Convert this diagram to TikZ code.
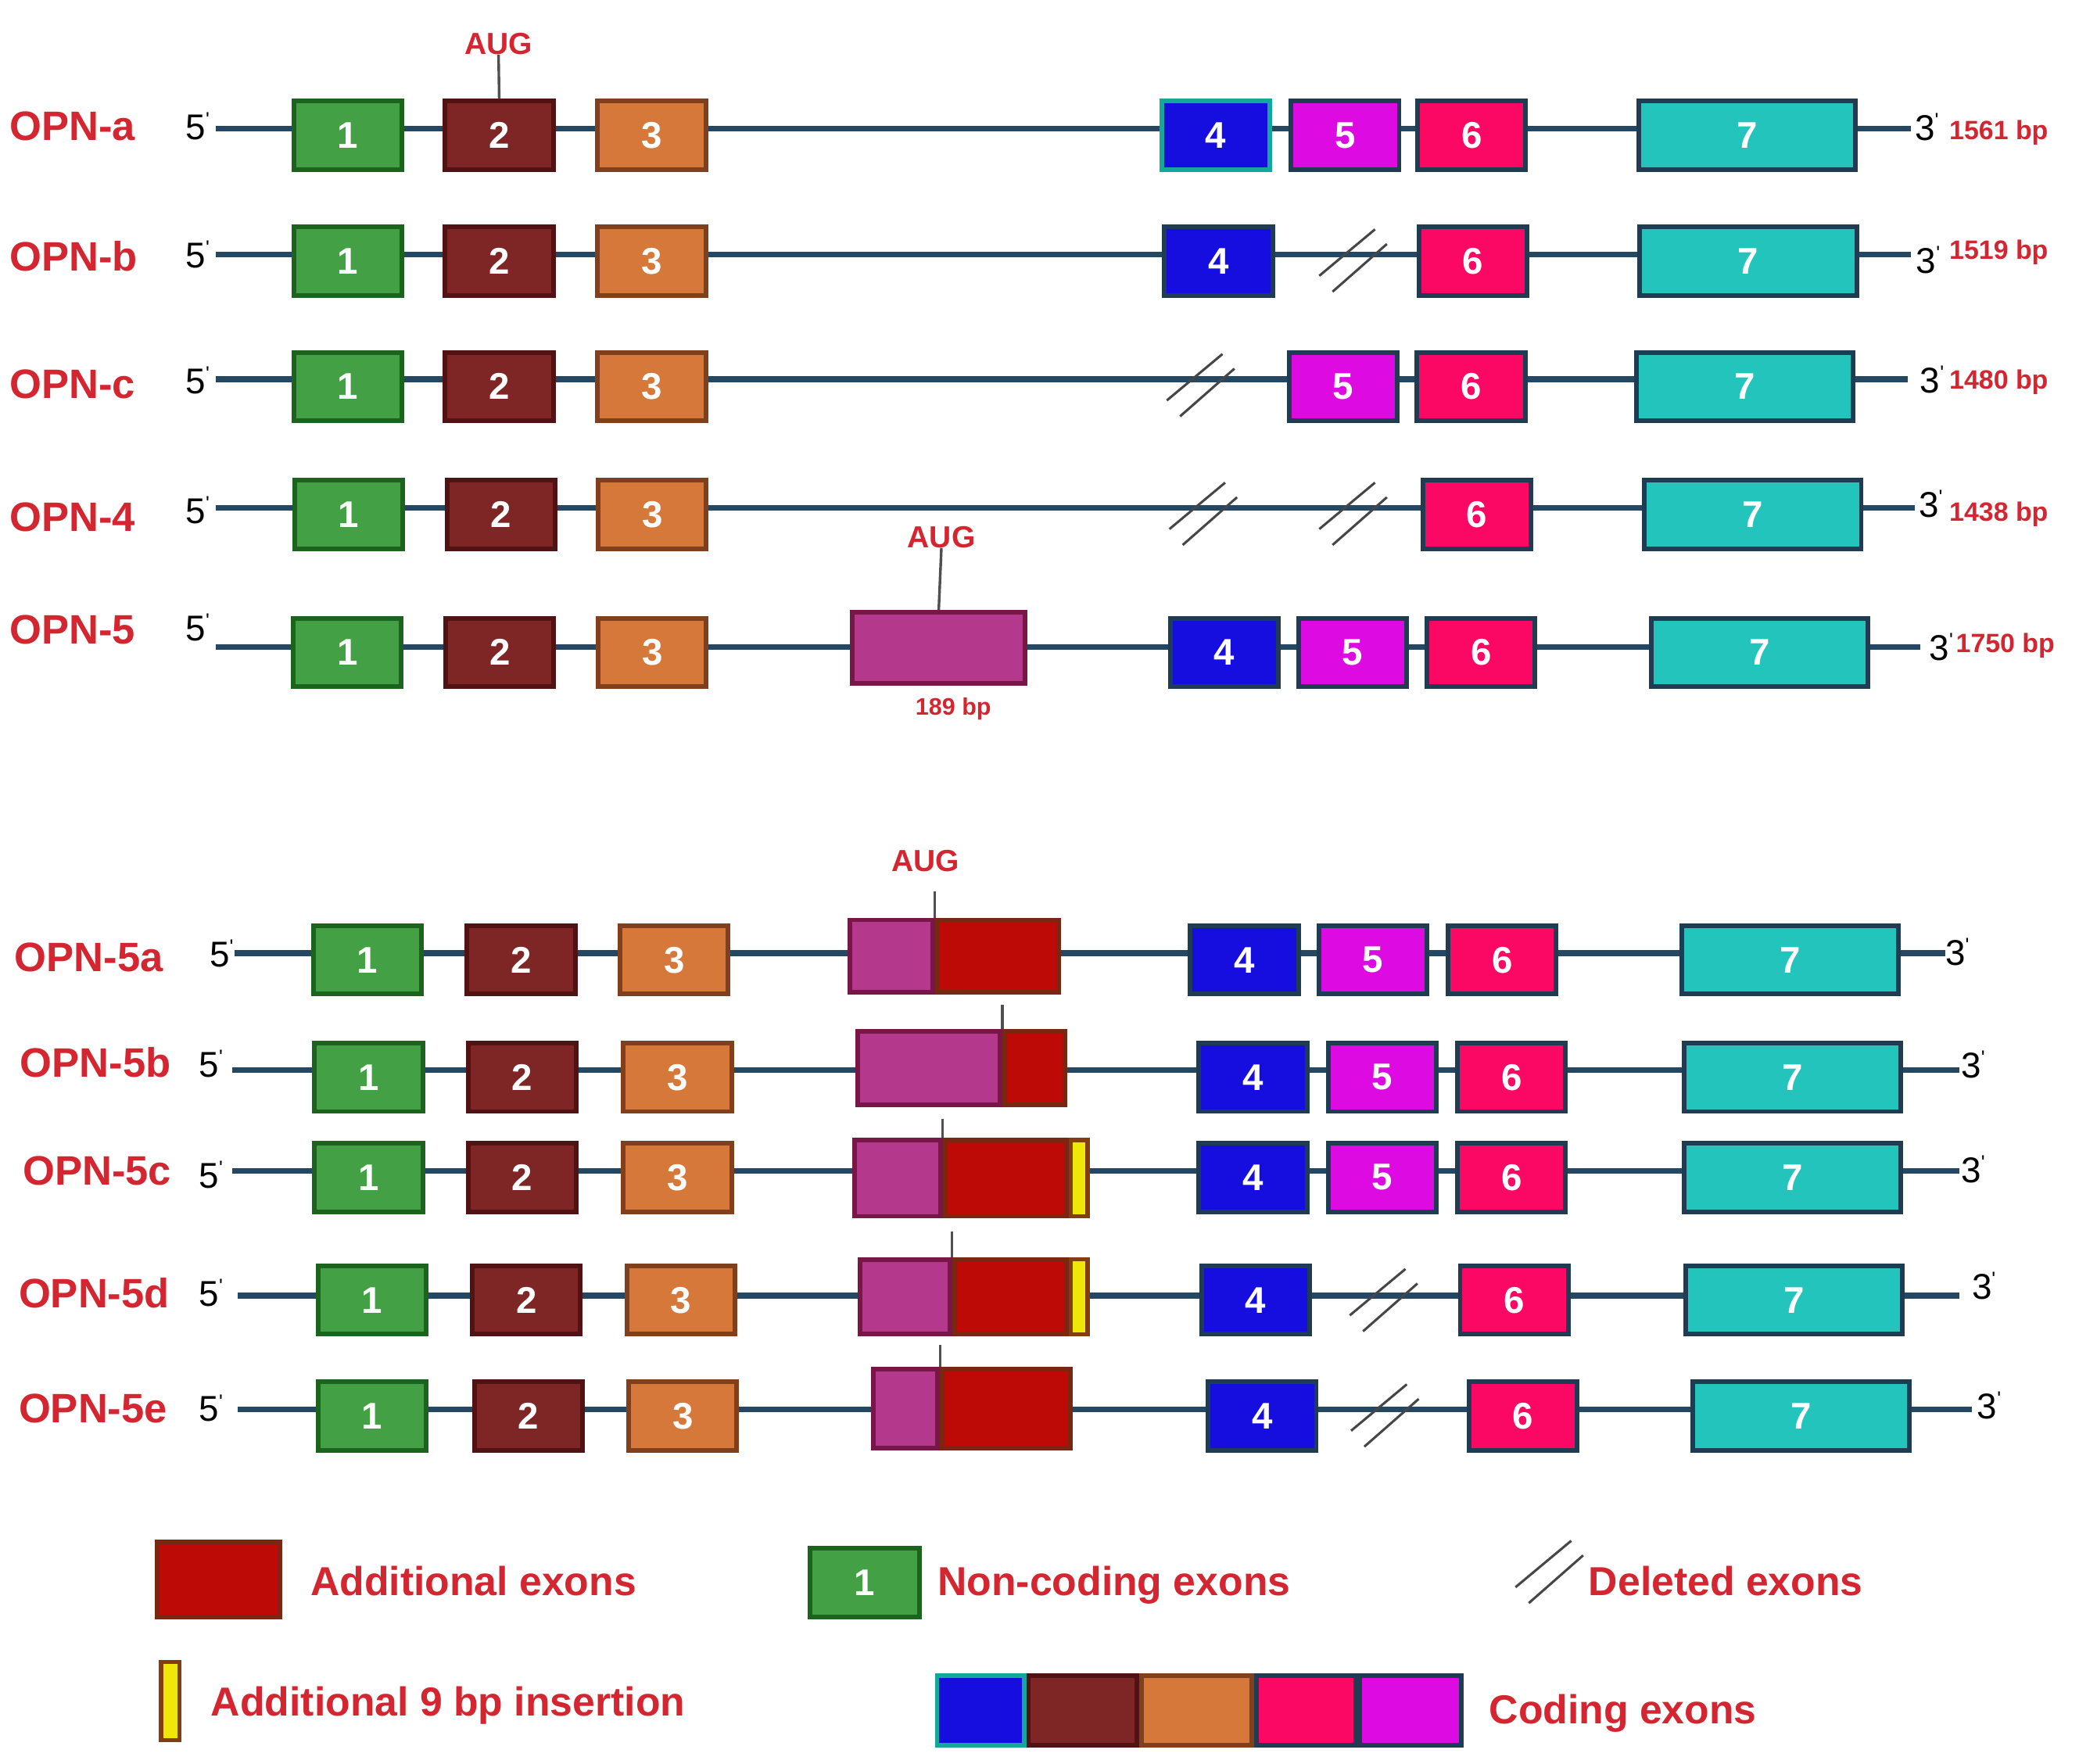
\documentclass[tikz,border=0pt]{standalone}
\usepackage{fontspec}
\setmainfont{Liberation Sans}
\definecolor{labred}{RGB}{212,38,48}
\definecolor{linec}{RGB}{36,72,100}
\definecolor{tickc}{RGB}{80,80,80}
\definecolor{delc}{RGB}{70,70,70}
\definecolor{gfill}{RGB}{67,160,68}
\definecolor{gdraw}{RGB}{28,100,30}
\definecolor{bfill}{RGB}{126,38,38}
\definecolor{bdraw}{RGB}{80,18,18}
\definecolor{ofill}{RGB}{214,120,58}
\definecolor{odraw}{RGB}{128,64,30}
\definecolor{blfill}{RGB}{22,14,222}
\definecolor{sdraw}{RGB}{32,60,82}
\definecolor{mfill}{RGB}{222,10,226}
\definecolor{pfill}{RGB}{250,8,100}
\definecolor{tfill}{RGB}{34,196,188}
\definecolor{tealb}{RGB}{20,168,156}
\definecolor{vfill}{RGB}{180,56,140}
\definecolor{vdraw}{RGB}{120,22,72}
\definecolor{rfill}{RGB}{190,10,6}
\definecolor{rdraw}{RGB}{120,40,18}
\definecolor{yfill}{RGB}{238,232,10}
\definecolor{ydraw}{RGB}{130,62,16}
\newcommand\numfont{\fontsize{28}{30}\selectfont\bfseries}
\newcommand\labfont{\fontsize{31}{33}\selectfont\bfseries}
\newcommand\primefont{\fontsize{27}{29}\selectfont}
\newcommand\bpfont{\fontsize{20}{22}\selectfont\bfseries}
\newcommand\augfont{\fontsize{23}{25}\selectfont\bfseries}
\newcommand\smallbpfont{\fontsize{18}{20}\selectfont\bfseries}
\newcommand\legfont{\fontsize{30.5}{32}\selectfont\bfseries}
\newcommand\pr{\raisebox{10pt}{\fontsize{15}{15}\selectfont\textquotesingle}}
\tikzset{
  ex/.style={rectangle, line width=3.5pt, minimum width=81.5pt, minimum height=51.5pt, inner sep=0pt, text=white, font=\numfont},
  xa/.style={ex, fill=gfill, draw=gdraw},
  xb/.style={ex, fill=bfill, draw=bdraw},
  xc/.style={ex, fill=ofill, draw=odraw},
  xd/.style={ex, fill=blfill, draw=sdraw},
  xe/.style={ex, fill=mfill, draw=sdraw},
  xf/.style={ex, fill=pfill, draw=sdraw},
  xg/.style={ex, fill=tfill, draw=sdraw, minimum width=163.5pt},
  seg/.style={rectangle, line width=3.5pt, inner sep=0pt},
  vseg/.style={seg, fill=vfill, draw=vdraw},
  rseg/.style={seg, fill=rfill, draw=rdraw},
  yseg/.style={seg, fill=yfill, draw=ydraw, line width=3pt},
  intron/.style={draw=linec, line width=4.5pt},
  tick/.style={draw=tickc, line width=2pt},
  delm/.style={draw=delc, line width=1.8pt},
  lab/.style={anchor=west, inner sep=0pt, text=labred, font=\labfont},
  primelab/.style={anchor=west, inner sep=0pt, text=black, font=\primefont},
  bp/.style={anchor=west, inner sep=0pt, text=labred, font=\bpfont, text depth=0pt},
  aug/.style={inner sep=0pt, text=labred, font=\augfont, text depth=0pt},
  leg/.style={anchor=west, inner sep=0pt, text=labred, font=\legfont, text depth=0pt},
  delmark/.pic={\draw[delm] (-25,12) -- (17,-23) (-15,24) -- (26,-12);}
}
\begin{document}
\begin{tikzpicture}[x=1pt,y=-1pt]
\useasboundingbox (0,0) rectangle (1568,1330);
\fill[white] (0,0) rectangle (1568,1330);

% ---------- OPN-a ----------
\node[lab] (la) at (7,95) {OPN-a};
\node[primelab] (fa) at (140,95) {5\pr};
\coordinate (sa) at (163,97); \coordinate (ta) at (1441,97);
\draw[intron] (sa) -- (ta);
\node[xa] (a1) at (262.5,102) {1};
\node[xb] (a2) at (376.5,102) {2};
\node[xc] (a3) at (491.5,102) {3};
\node[xd, draw=tealb] (a4) at (917,102) {4};
\node[xe] (a5) at (1014.5,102) {5};
\node[xf] (a6) at (1110,102) {6};
\node[xg] (a7) at (1317.5,102) {7};
\node[primelab] (ea) at (1444,96) {3\pr};
\node[bp] (ba) at (1470,98) {1561 bp};
\node[aug] (ua) at (376,33) {AUG};
\draw[tick] (a2.north) -- (ua.south);

% ---------- OPN-b ----------
\node[lab] (lb) at (7,193) {OPN-b};
\node[primelab] (fb) at (140,192) {5\pr};
\coordinate (sb) at (163,192); \coordinate (tb) at (1441,192);
\draw[intron] (sb) -- (tb);
\node[xa] (b1) at (262.5,197) {1};
\node[xb] (b2) at (376.5,197) {2};
\node[xc] (b3) at (491.5,197) {3};
\node[xd] (b4) at (919,197) {4};
\pic at (1020,196) {delmark};
\node[xf] (b6) at (1111,197) {6};
\node[xg] (b7) at (1318.5,197) {7};
\node[primelab] (eb) at (1445,196) {3\pr};
\node[bp] (bb) at (1470,188) {1519 bp};

% ---------- OPN-c ----------
\node[lab] (lc) at (7,290) {OPN-c};
\node[primelab] (fc) at (140,287) {5\pr};
\coordinate (sc) at (163,286); \coordinate (tc) at (1439,286);
\draw[intron] (sc) -- (tc);
\node[xa] (c1) at (262.5,291.5) {1};
\node[xb] (c2) at (376.5,291.5) {2};
\node[xc] (c3) at (491.5,291.5) {3};
\pic at (905,290) {delmark};
\node[xe] (c5) at (1013,291.5) {5};
\node[xf] (c6) at (1109.5,291.5) {6};
\node[xg] (c7) at (1316,291.5) {7};
\node[primelab] (ec) at (1448,286) {3\pr};
\node[bp] (bc) at (1470,286) {1480 bp};

% ---------- OPN-4 ----------
\node[lab] (ld) at (7,390) {OPN-4};
\node[primelab] (fd) at (140,385) {5\pr};
\coordinate (sd) at (163,383); \coordinate (td) at (1444,383);
\draw[intron] (sd) -- (td);
\node[xa] (d1) at (263,388) {1};
\node[xb] (d2) at (378,388) {2};
\node[xc] (d3) at (492,388) {3};
\pic at (907,387) {delmark};
\pic at (1020,387) {delmark};
\node[xf] (d6) at (1114,388) {6};
\node[xg] (d7) at (1322,388) {7};
\node[primelab] (ed) at (1447,380) {3\pr};
\node[bp] (bd) at (1470,386) {1438 bp};

% ---------- OPN-5 ----------
\node[lab] (le) at (7,475) {OPN-5};
\node[primelab] (fe) at (140,473) {5\pr};
\coordinate (se) at (163,488); \coordinate (te) at (1448,488);
\draw[intron] (se) -- (te);
\node[xa] (e1) at (262,492) {1};
\node[xb] (e2) at (377,492) {2};
\node[xc] (e3) at (492,492) {3};
\node[vseg, minimum width=130.5pt, minimum height=53.5pt] (ex5) at (708,488.5) {};
\node[xd] (e4) at (923.5,492) {4};
\node[xe] (e5) at (1020,492) {5};
\node[xf] (e6) at (1117,492) {6};
\node[xg] (e7) at (1327,492) {7};
\node[primelab] (ee) at (1455,488) {3\pr};
\node[bp] (be) at (1475,485) {1750 bp};
\node[aug] (ue) at (710,405) {AUG};
\draw[tick] (ex5.north) -- (ue.south);
\node[inner sep=0pt, text=labred, font=\smallbpfont, text depth=0pt] (se189) at (719,533) {189 bp};

% ---------- OPN-5a ----------
\node[lab] (lf) at (11,722) {OPN-5a};
\node[primelab] (ff) at (158,719) {5\pr};
\coordinate (sf) at (177,719); \coordinate (tf) at (1467,719);
\draw[intron] (sf) -- (tf);
\node[xa] (f1) at (277,724) {1};
\node[xb] (f2) at (393,724) {2};
\node[xc] (f3) at (508.5,724) {3};
\node[vseg, minimum width=62.5pt, minimum height=54.5pt] (fp) at (672,721) {};
\node[rseg, minimum width=91.5pt, minimum height=54.5pt] (fr) at (752.5,721) {};
\node[xd] (f4) at (938.5,724) {4};
\node[xe] (f5) at (1035.5,724) {5};
\node[xf] (f6) at (1133,724) {6};
\node[xg] (f7) at (1350,724) {7};
\node[primelab] (ef) at (1467,718) {3\pr};
\node[aug] (uf) at (698,649) {AUG};
\draw[tick] (fp.north east) -- ++(0,-20);

% ---------- OPN-5b ----------
\node[lab] (lg) at (15,801) {OPN-5b};
\node[primelab] (fg) at (150,802) {5\pr};
\coordinate (sg) at (175,807); \coordinate (tg) at (1478,807);
\draw[intron] (sg) -- (tg);
\node[xa] (g1) at (278,812.5) {1};
\node[xb] (g2) at (394,812.5) {2};
\node[xc] (g3) at (511,812.5) {3};
\node[vseg, minimum width=107.5pt, minimum height=55.5pt] (gp) at (700.5,805.5) {};
\node[rseg, minimum width=45.5pt, minimum height=55.5pt] (gr) at (780.5,805.5) {};
\node[xd] (g4) at (945,812.5) {4};
\node[xe] (g5) at (1042.5,812.5) {5};
\node[xf] (g6) at (1140,812.5) {6};
\node[xg] (g7) at (1352,812.5) {7};
\node[primelab] (eg) at (1479,803) {3\pr};
\draw[tick] (gp.north east) -- ++(0,-18);

% ---------- OPN-5c ----------
\node[lab] (lh) at (17,883) {OPN-5c};
\node[primelab] (fh) at (150,886) {5\pr};
\coordinate (sh) at (175,883); \coordinate (th) at (1478,883);
\draw[intron] (sh) -- (th);
\node[xa] (h1) at (278,888) {1};
\node[xb] (h2) at (394,888) {2};
\node[xc] (h3) at (511,888) {3};
\node[vseg, minimum width=64.5pt, minimum height=57.5pt] (hp) at (677,888.5) {};
\node[rseg, minimum width=91.5pt, minimum height=57.5pt] (hr) at (758.5,888.5) {};
\node[yseg, minimum width=12.5pt, minimum height=57.5pt] (hy) at (814,888.5) {};
\node[xd] (h4) at (945,888) {4};
\node[xe] (h5) at (1042.5,888) {5};
\node[xf] (h6) at (1140,888) {6};
\node[xg] (h7) at (1352,888) {7};
\node[primelab] (eh) at (1479,882) {3\pr};
\draw[tick] (hp.north east) -- ++(0,-14);

% ---------- OPN-5d ----------
\node[lab] (li) at (14,975) {OPN-5d};
\node[primelab] (fi) at (150,975) {5\pr};
\coordinate (si) at (179,977); \coordinate (ti) at (1478,977);
\draw[intron] (si) -- (ti);
\node[xa] (i1) at (280.5,980.5) {1};
\node[xb] (i2) at (397,980.5) {2};
\node[xc] (i3) at (513.5,980.5) {3};
\node[vseg, minimum width=67.5pt, minimum height=56.5pt] (ip) at (682.5,978) {};
\node[rseg, minimum width=84.5pt, minimum height=56.5pt] (ir) at (762,978) {};
\node[yseg, minimum width=12.5pt, minimum height=56.5pt] (iy) at (814,978) {};
\node[xd] (i4) at (947,980.5) {4};
\pic at (1043,980) {delmark};
\node[xf] (i6) at (1142,980.5) {6};
\node[xg] (i7) at (1353,980.5) {7};
\node[primelab] (ei) at (1487,970) {3\pr};
\draw[tick] (ip.north east) -- ++(0,-19);

% ---------- OPN-5e ----------
\node[lab] (lj) at (14,1062) {OPN-5e};
\node[primelab] (fj) at (150,1062) {5\pr};
\coordinate (sj) at (179,1063); \coordinate (tj) at (1487,1063);
\draw[intron] (sj) -- (tj);
\node[xa] (j1) at (280.5,1068) {1};
\node[xb] (j2) at (398.5,1068) {2};
\node[xc] (j3) at (515,1068) {3};
\node[vseg, minimum width=48.5pt, minimum height=59.5pt] (jp) at (683,1062.5) {};
\node[rseg, minimum width=96.5pt, minimum height=59.5pt] (jr) at (759,1062.5) {};
\node[xd] (j4) at (952,1068) {4};
\pic at (1044,1067) {delmark};
\node[xf] (j6) at (1148.5,1068) {6};
\node[xg] (j7) at (1358.5,1068) {7};
\node[primelab] (ej) at (1491,1060) {3\pr};
\draw[tick] (jp.north east) -- ++(0,-17);

% ---------- Legend ----------
\node[rseg, minimum width=92.5pt, minimum height=56.5pt] (kred) at (165,1191) {};
\node[leg] (kredt) at (234,1192) {Additional exons};
\node[xa, minimum width=82.5pt] (kgr) at (652,1193.5) {1};
\node[leg] (kgrt) at (707,1192) {Non-coding exons};
\pic at (1168,1185) {delmark};
\node[leg] (kdelt) at (1198,1192) {Deleted exons};
\node[yseg, minimum width=14pt, minimum height=59pt] (kyel) at (128.5,1283) {};
\node[leg] (kyelt) at (159,1283) {Additional 9 bp insertion};
\node[seg, fill=blfill, draw=tealb, minimum width=65.5pt, minimum height=52.5pt] (kc1) at (739.5,1290) {};
\node[seg, fill=bfill, draw=bdraw, minimum width=81.5pt, minimum height=52.5pt] (kc2) at (816.5,1290) {};
\node[seg, fill=ofill, draw=odraw, minimum width=83.5pt, minimum height=52.5pt] (kc3) at (902.5,1290) {};
\node[seg, fill=pfill, draw=sdraw, minimum width=74.5pt, minimum height=52.5pt] (kc4) at (985,1290) {};
\node[seg, fill=mfill, draw=sdraw, minimum width=76.5pt, minimum height=52.5pt] (kc5) at (1064,1290) {};
\node[leg] (kct) at (1123,1289) {Coding exons};
\end{tikzpicture}
\end{document}
